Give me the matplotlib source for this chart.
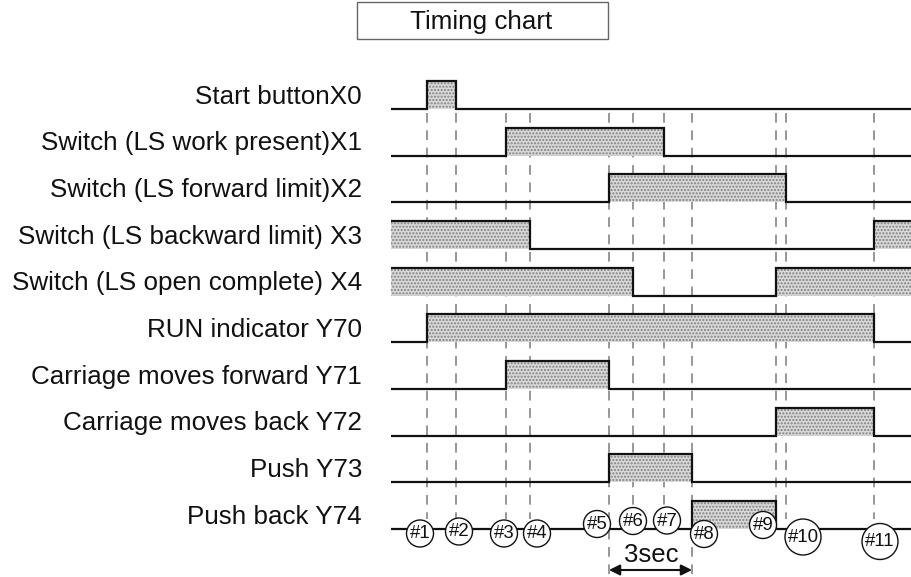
import matplotlib
matplotlib.use("Agg")
import matplotlib.pyplot as plt
from matplotlib.patches import Circle, Rectangle

plt.rcParams['font.family'] = ['Liberation Sans', 'DejaVu Sans']
plt.rcParams['lines.scale_dashes'] = False
plt.rcParams['hatch.color'] = '#7f7f7f'
plt.rcParams['hatch.linewidth'] = 1.0

# ---------------- data ----------------
signal_labels = [
    "Start buttonX0",
    "Switch (LS work present)X1",
    "Switch (LS forward limit)X2",
    "Switch (LS backward limit) X3",
    "Switch (LS open complete) X4",
    "RUN indicator Y70",
    "Carriage moves forward Y71",
    "Carriage moves back Y72",
    "Push Y73",
    "Push back Y74",
]
event_names = ["#1", "#2", "#3", "#4", "#5", "#6", "#7", "#8", "#9", "#10", "#11"]
event_times = [427, 456, 506, 530, 609, 633, 664, 692, 776, 786, 874]
t_begin, t_end = 391, 911
# high intervals per signal, as event numbers (0 = chart begin, 12 = chart end)
high_x0 = [(1, 2)]
high_x1 = [(3, 7)]
high_x2 = [(5, 10)]
high_x3 = [(0, 4), (11, 12)]
high_x4 = [(0, 6), (9, 12)]
high_y70 = [(1, 11)]
high_y71 = [(3, 5)]
high_y72 = [(9, 11)]
high_y73 = [(5, 8)]
high_y74 = [(8, 9)]
signal_highs = [high_x0, high_x1, high_x2, high_x3, high_x4,
                high_y70, high_y71, high_y72, high_y73, high_y74]
span_label = "3sec"
span_events = (5, 8)
title = "Timing chart"

# ---------------- layout ----------------
W, H = 911, 577
row0_low = 109.0
row_step = 46.67
pulse_h = 28.0
label_right = 362
dash_top = 113
dash_bottom = 519
dash_bottom_long = 577
marker_dx = [-7, 3, -2, 7, -12, 0, 3, 12, -13, 17, 6]
marker_y = [533.5, 531.5, 533.5, 533.5, 524, 521, 520.5, 534, 525, 537, 541.5]
marker_r = [13.5] * 9 + [18, 18]

fig = plt.figure(figsize=(W / 100, H / 100), dpi=100)
ax = fig.add_axes([0, 0, 1, 1])
ax.set_xlim(0, W)
ax.set_ylim(H, 0)
ax.axis('off')

edge_t = [t_begin] + event_times + [t_end]

# dashed event lines
for i, t in enumerate(event_times):
    bottom = dash_bottom_long if (i + 1) in span_events else dash_bottom
    ax.plot([t, t], [dash_top, bottom], color='#7a7a7a', lw=1.1,
            linestyle=(0, (7.0, 5.5)), zorder=1)

# signals
for r, (lab, highs) in enumerate(zip(signal_labels, signal_highs)):
    low = row0_low + r * row_step
    high = low - pulse_h
    xs = [t_begin]
    ys = []
    cur = t_begin
    for a, b in highs:
        ta, tb = edge_t[a], edge_t[b]
        if ta > cur:
            ys.append(low)
            xs.append(ta)
        ys.append(high)
        xs.append(tb)
        cur = tb
    if cur < t_end:
        ys.append(low)
        xs.append(t_end)
    ax.stairs(ys, xs, baseline=low, fill=True, facecolor='#d9d9d9',
              edgecolor='#7f7f7f', hatch='.....', linewidth=0, zorder=2)
    ax.stairs(ys, xs, baseline=None, color='#111111', linewidth=1.6, zorder=3)
    ax.text(label_right, low - 5.5, lab, ha='right', va='baseline',
            fontsize=18.7, color='#111111')

# event markers
for i, name in enumerate(event_names):
    cx = event_times[i] + marker_dx[i]
    cy = marker_y[i]
    ax.add_patch(Circle((cx, cy), marker_r[i], facecolor='white',
                        edgecolor='#111111', linewidth=1.0, zorder=4))
    ax.text(cx, cy + 0.5, name, ha='center', va='center', fontsize=13.4,
            color='#111111', zorder=5)

# 3sec span
sa, sb = event_times[span_events[0] - 1], event_times[span_events[1] - 1]
ax.annotate('', xy=(sa, 570), xytext=(sb, 570),
            arrowprops=dict(arrowstyle='<|-|>', color='#111111', lw=1.5,
                            mutation_scale=16, shrinkA=0, shrinkB=0), zorder=5)
ax.text((sa + sb) / 2 + 1, 561.5, span_label, ha='center', va='baseline',
        fontsize=18.5, color='#111111')

# title box
ax.add_patch(Rectangle((357, 2), 251, 37, facecolor='white', edgecolor='#666666',
                       linewidth=1.0, zorder=1))
ax.text(481, 28.5, title, ha='center', va='baseline', fontsize=18.7,
        color='#111111', zorder=2)

fig.savefig('out.png', dpi=100)
